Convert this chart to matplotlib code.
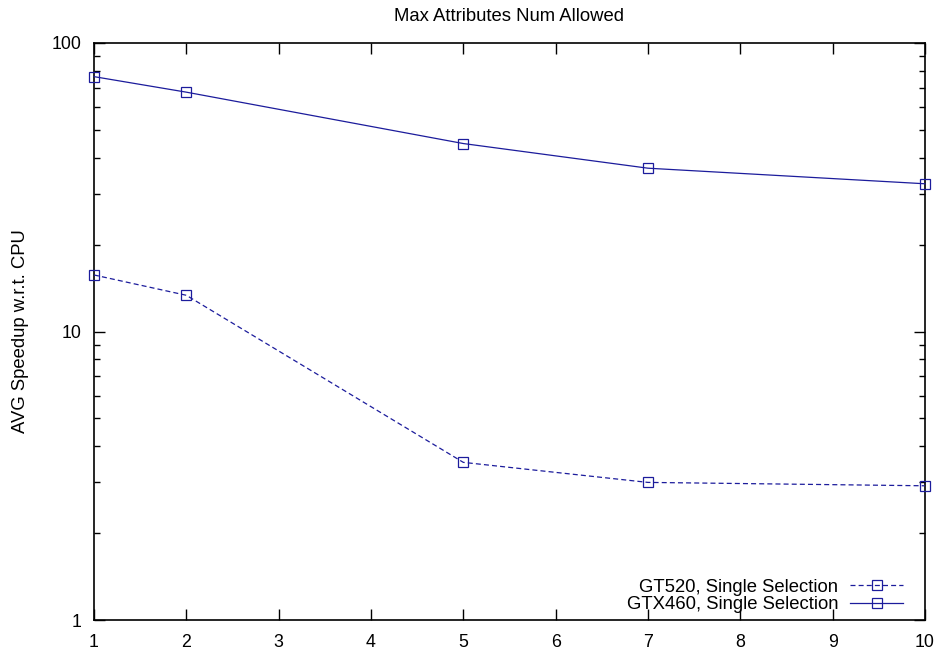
import matplotlib
matplotlib.use("Agg")
import matplotlib.pyplot as plt
from matplotlib.ticker import LogLocator, NullFormatter, FixedLocator

# max attributes allowed vs. average speedup
attrs = [1, 2, 5, 7, 10]
gt520_speedup = [15.7, 13.35, 3.52, 3.0, 2.92]
gtx460_speedup = [76.4, 67.5, 44.8, 36.8, 32.5]

plt.rcParams['font.family'] = ['Liberation Sans', 'DejaVu Sans']
plt.rcParams['font.size'] = 13.3

fig = plt.figure(figsize=(9.4, 6.5), dpi=100)
ax = fig.add_axes([0.1, 0.046, 0.884, 0.888])

line_color = '#1c1c9c'
style = dict(color=line_color, linewidth=0.9, marker='s', markersize=7,
             markerfacecolor='none', markeredgewidth=0.9, clip_on=False, zorder=3)
ax.plot(attrs, gt520_speedup, linestyle=(0, (4, 2.5)),
        label='GT520, Single Selection', **style)
ax.plot(attrs, gtx460_speedup, linestyle='-',
        label='GTX460, Single Selection', **style)

ax.set_yscale('log')
ax.set_xlim(1, 10)
ax.set_ylim(1, 100)
ax.xaxis.set_major_locator(FixedLocator(range(1, 11)))
ax.yaxis.set_major_locator(FixedLocator([1, 10, 100]))
ax.set_yticklabels(['1', '10', '100'])
ax.yaxis.set_minor_locator(LogLocator(base=10, subs=range(2, 10)))
ax.yaxis.set_minor_formatter(NullFormatter())

ax.tick_params(which='both', direction='in', top=True, right=True, width=1, labelsize=12.8)
ax.tick_params(which='major', length=8)
ax.tick_params(axis='y', which='major', pad=9)
ax.tick_params(axis='x', which='major', pad=10)
ax.tick_params(which='minor', length=4)
for s in ax.spines.values():
    s.set_linewidth(1.2)

ax.set_ylabel('AVG Speedup w.r.t. CPU', labelpad=16)
ax.set_title('Max Attributes Num Allowed', fontsize=13.3, pad=16)

ax.legend(loc='lower right', frameon=False, markerfirst=False, handlelength=2.85,
          handletextpad=0.65, labelspacing=0.03, borderpad=0, borderaxespad=0,
          bbox_to_anchor=(0.9735, 0.012))

fig.savefig('out.png', dpi=100)
